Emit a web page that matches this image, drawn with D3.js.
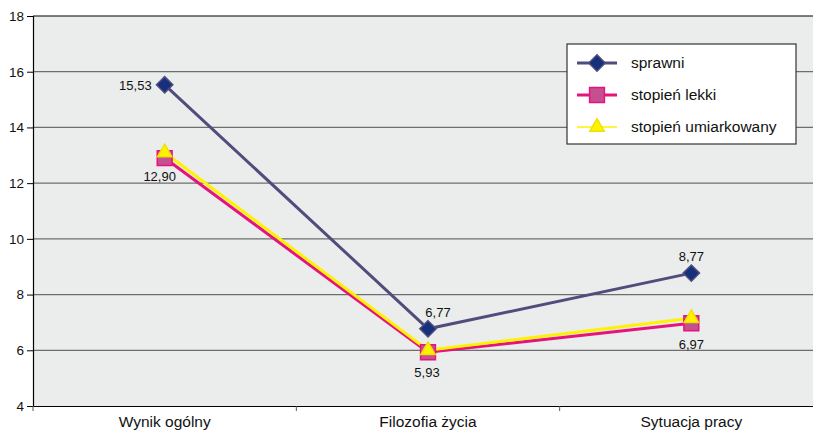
<!DOCTYPE html>
<html><head><meta charset="utf-8">
<script src="https://cdn.jsdelivr.net/npm/d3@7"></script>
<style>body{margin:0;background:#fff;}svg{display:block;font-family:"Liberation Sans",Arial,sans-serif;}</style>
</head><body><svg id="c" width="813" height="434"></svg>
<script>
const categories = ["Wynik ogólny", "Filozofia życia", "Sytuacja pracy"];
const sprawni = [15.53, 6.77, 8.77];
const lekki = [12.90, 5.93, 6.97];
const umiarkowany = [13.1, 6.0, 7.15];
const seriesNames = ["sprawni", "stopień lekki", "stopień umiarkowany"];
const yTicks = [4, 6, 8, 10, 12, 14, 16, 18];

const svg = d3.select("#c");
const L = 33, R = 823, T = 16, B = 406;
const x = d3.scaleBand().domain(categories).range([L, R]);
const y = d3.scaleLinear().domain([4, 18]).range([B, T]);

svg.append("rect").attr("x", L).attr("y", T).attr("width", R - L).attr("height", B - T).attr("fill", "#ebecec");

// gridlines
svg.append("g").selectAll("line").data(yTicks.filter(d => d > 4 && d < 18)).join("line")
  .attr("x1", L).attr("x2", R).attr("y1", d => y(d)).attr("y2", d => y(d))
  .attr("stroke", "#6e6e6e").attr("stroke-width", 1.2);
svg.append("line").attr("x1", L).attr("x2", R).attr("y1", T).attr("y2", T).attr("stroke", "#000").attr("stroke-width", 1.2);

// axes
const yAxis = svg.append("g").attr("transform", `translate(${L},0)`)
  .call(d3.axisLeft(y).tickValues(yTicks).tickSize(6).tickPadding(3).tickFormat(d3.format("d")));
yAxis.select(".domain").attr("stroke", "#000").attr("stroke-width", 1.2);
yAxis.selectAll("text").attr("font-size", 13.5).attr("fill", "#111").attr("font-family", "Liberation Sans, Arial, sans-serif");

const xAxis = svg.append("g").attr("transform", `translate(0,${B})`)
  .call(d3.axisBottom(x).tickSize(0).tickPadding(10));
xAxis.select(".domain").attr("stroke", "#000").attr("stroke-width", 1.2);
xAxis.selectAll("text").attr("font-size", 15.5).attr("fill", "#111").attr("font-family", "Liberation Sans, Arial, sans-serif");
svg.append("g").selectAll("line").data(categories.concat(["end"])).join("line")
  .attr("x1", (d, i) => L + i * x.bandwidth()).attr("x2", (d, i) => L + i * x.bandwidth())
  .attr("y1", B).attr("y2", B + 5).attr("stroke", "#555");

const cx = (d, i) => x(categories[i]) + x.bandwidth() / 2;
const line = d3.line().x(cx).y(d => y(d));

const series = [
  {name: seriesNames[0], data: sprawni, stroke: "#504c7c", w: 3, shape: d3.symbolDiamond2, size: 170, fill: "#15317c", mstroke: "#504c7c"},
  {name: seriesNames[1], data: lekki, stroke: "#e5147b", w: 3, shape: d3.symbolSquare, size: 220, fill: "#c45090", mstroke: "#e5147b"},
  {name: seriesNames[2], data: umiarkowany, stroke: "#fff200", w: 3, shape: d3.symbolTriangle, size: 90, fill: "#fff200", mstroke: "#f0e000"}
];

series.forEach(s => {
  svg.append("path").datum(s.data).attr("d", line).attr("fill", "none").attr("stroke", s.stroke).attr("stroke-width", s.w);
});
series.forEach(s => {
  svg.append("g").selectAll("path").data(s.data).join("path")
    .attr("transform", (d, i) => `translate(${cx(d, i)},${y(d)})`)
    .attr("d", d3.symbol().type(s.shape).size(s.size))
    .attr("fill", s.fill).attr("stroke", s.mstroke).attr("stroke-width", 1.5);
});

// data labels
const fmt = v => d3.format(".2f")(v).replace(".", ",");
const labels = [
  {v: sprawni[0], i: 0, dx: -13, dy: 5, anchor: "end"},
  {v: lekki[0], i: 0, dx: -5, dy: 23, anchor: "middle"},
  {v: sprawni[1], i: 1, dx: 10, dy: -12, anchor: "middle"},
  {v: lekki[1], i: 1, dx: -1, dy: 25, anchor: "middle"},
  {v: sprawni[2], i: 2, dx: 0, dy: -12, anchor: "middle"},
  {v: lekki[2], i: 2, dx: 0, dy: 26, anchor: "middle"}
];
svg.append("g").selectAll("text").data(labels).join("text")
  .attr("x", d => cx(d.v, d.i) + d.dx).attr("y", d => y(d.v) + d.dy)
  .attr("text-anchor", d => d.anchor).attr("font-size", 13).attr("fill", "#111")
  .text(d => fmt(d.v));

// legend
const lg = svg.append("g");
lg.append("rect").attr("x", 567).attr("y", 44).attr("width", 229).attr("height", 100)
  .attr("fill", "#fff").attr("stroke", "#333").attr("stroke-width", 1.2);
series.forEach((s, k) => {
  const yy = 63 + k * 32;
  lg.append("line").attr("x1", 577).attr("x2", 617).attr("y1", yy).attr("y2", yy)
    .attr("stroke", s.stroke).attr("stroke-width", k === 2 ? 1.5 : 3);
  lg.append("path").attr("transform", `translate(597,${yy})`)
    .attr("d", d3.symbol().type(s.shape).size(s.size)).attr("fill", s.fill).attr("stroke", s.mstroke).attr("stroke-width", 1.5);
  lg.append("text").attr("x", 631).attr("y", yy + 5).attr("font-size", 15.5).attr("fill", "#111").text(s.name);
});
</script></body></html>
